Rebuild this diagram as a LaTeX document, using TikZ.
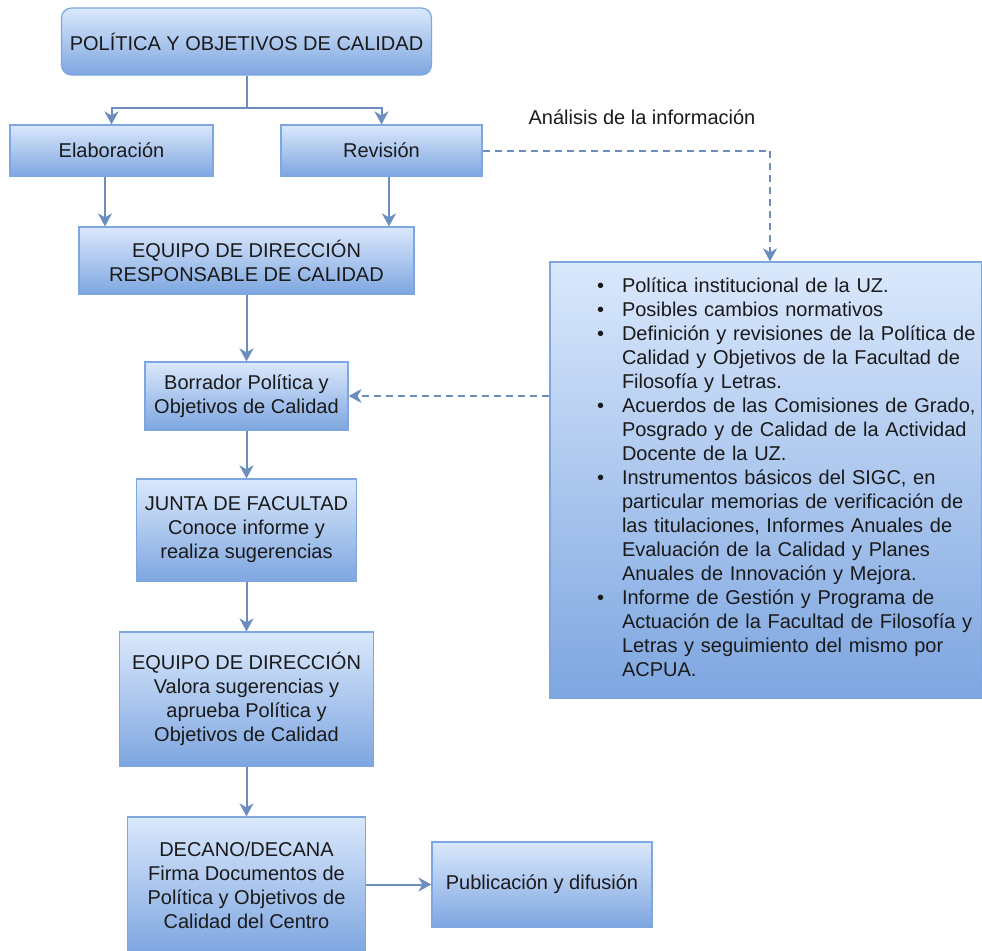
\documentclass[tikz,border=0pt]{standalone}
\usepackage{fontspec}
\setmainfont{Liberation Sans}
\usetikzlibrary{arrows.meta}
\definecolor{boxtop}{HTML}{DAE8FC}
\definecolor{boxbot}{HTML}{7EA6E0}
\definecolor{boxline}{HTML}{7EA6E0}
\definecolor{arrline}{HTML}{6C8EBF}
\definecolor{txt}{HTML}{1A1A1A}

\tikzset{
    box/.style={draw=boxline, line width=1.2pt, top color=boxtop, bottom color=boxbot,
        inner sep=0pt, align=center, text=txt, font=\fontsize{20}{24}\selectfont},
    lbl/.style={text=txt, font=\fontsize{20}{24}\selectfont},
    arr/.style={draw=arrline, line width=2pt, -{Stealth[length=13pt, width=14pt, inset=4pt]}},
    dasharr/.style={arr, dash pattern=on 7pt off 5pt},
}

\begin{document}
\begin{tikzpicture}[x=1pt, y=-1pt]

    \useasboundingbox (0, 0) rectangle (982, 950);

    \node[box, rounded corners=10pt, minimum width=370pt, minimum height=67pt] (politica) at (246.5, 41.5) {POLÍTICA Y OBJETIVOS DE CALIDAD};

    \node[box, minimum width=203pt, minimum height=51pt] (elab) at (111.5, 150.5) {Elaboración};
    \node[box, minimum width=201pt, minimum height=51pt] (rev) at (381.5, 150.5) {Revisión};

    \node[box, minimum width=335pt, minimum height=67pt] (equipo) at (246.5, 260.5) {EQUIPO DE DIRECCIÓN\\RESPONSABLE DE CALIDAD};
    \node[box, minimum width=203pt, minimum height=68pt] (borrador) at (246.5, 396) {Borrador Política y\\Objetivos de Calidad};
    \node[box, minimum width=220pt, minimum height=102pt] (junta) at (246.5, 530) {JUNTA DE FACULTAD\\Conoce informe y\\realiza sugerencias};
    \node[box, minimum width=254pt, minimum height=134pt] (valora) at (246.5, 699) {EQUIPO DE DIRECCIÓN\\Valora sugerencias y\\aprueba Política y\\Objetivos de Calidad};
    \node[box, minimum width=238pt, minimum height=136pt] (decano) at (246.5, 885) {DECANO/DECANA\\Firma Documentos de\\Política y Objetivos de\\Calidad del Centro};
    \node[box, minimum width=220pt, minimum height=85pt] (publica) at (542, 884.5) {Publicación y difusión};

    \node[lbl] (analisis) at (642, 117) {Análisis de la información};

    \node[box, minimum width=432pt, minimum height=436pt, text width=432pt, align=left] (lista) at (766, 480) {%
    \begin{tabular}{@{\hspace{47pt}}c@{\hspace{18pt}}l@{}}
    \textbullet & Política institucional de la UZ.\\
    \textbullet & Posibles cambios normativos\\
    \textbullet & Definición y revisiones de la Política de\\
     & Calidad y Objetivos de la Facultad de\\
     & Filosofía y Letras.\\
    \textbullet & Acuerdos de las Comisiones de Grado,\\
     & Posgrado y de Calidad de la Actividad\\
     & Docente de la UZ.\\
    \textbullet & Instrumentos básicos del SIGC, en\\
     & particular memorias de verificación de\\
     & las titulaciones, Informes Anuales de\\
     & Evaluación de la Calidad y Planes\\
     & Anuales de Innovación y Mejora.\\
    \textbullet & Informe de Gestión y Programa de\\
     & Actuación de la Facultad de Filosofía y\\
     & Letras y seguimiento del mismo por\\
     & ACPUA.
    \end{tabular}};

    \coordinate (split) at (246.5, 108);
    \draw[arr] (politica.south) -- (split) -| (elab.north);
    \draw[arr] (split) -| (rev.north);

    \draw[arr] ([xshift=-6.5pt]elab.south) -- ([xshift=-6.5pt]elab.south |- equipo.north);
    \draw[arr] ([xshift=7.5pt]rev.south) -- ([xshift=7.5pt]rev.south |- equipo.north);

    \draw[arr] (equipo) -- (borrador);
    \draw[arr] (borrador) -- (junta);
    \draw[arr] (junta) -- (valora);
    \draw[arr] (valora) -- (decano);
    \draw[arr] (decano.east |- publica) -- (publica.west);

    \draw[dasharr] (rev.east) -| ([xshift=4pt]lista.north);
    \draw[dasharr] (lista.west |- borrador.east) -- (borrador.east);

\end{tikzpicture}
\end{document}
